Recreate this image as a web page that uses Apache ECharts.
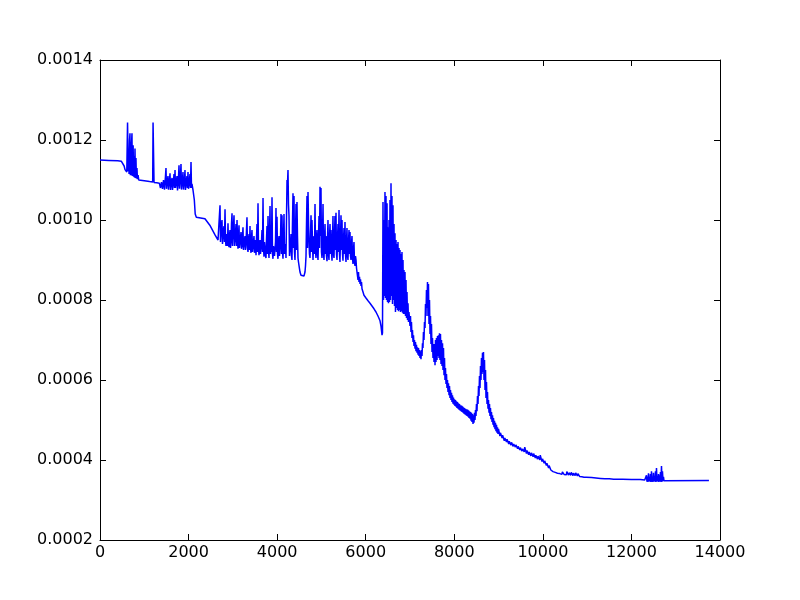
<!DOCTYPE html>
<html>
<head>
<meta charset="utf-8">
<script src="https://cdn.jsdelivr.net/npm/echarts@6/dist/echarts.min.js"></script>
<style>html,body{margin:0;padding:0;background:#fff;}#chart{width:800px;height:600px;}</style>
</head>
<body>
<div id="chart"></div>
<script>
// tick labels
const xTicks = [0, 2000, 4000, 6000, 8000, 10000, 12000, 14000];
const yTicks = [0.0002, 0.0004, 0.0006, 0.0008, 0.0010, 0.0012, 0.0014];

// series values: [x, y in units of 1e-6]
const segStart = [[0,1150],[200,1149],[400,1148],[480,1147],[520,1143],[545,1135],[565,1126],[590,1121],[605,1120]];
const segBurst1 = [[615,1118],[622,1244],[630,1244],[638,1122],[648,1160],[656,1115],[668,1200],[677,1217],[686,1112],[695,1180],[703,1112],[712,1190],[722,1217],[730,1110],[740,1150],[748,1187],[758,1108],[768,1160],[780,1106],[790,1179],[800,1105],[812,1155],[822,1104],[835,1130],[845,1102],[860,1112],[875,1100],[903,1099],[1000,1098],[1120,1096],[1190,1095],[1198,1244],[1212,1244],[1220,1094],[1280,1093],[1340,1092]];
const segBand1 = [[1355,1092],[1366,1080],[1377,1082],[1388,1095],[1400,1100],[1411,1078],[1423,1080],[1434,1100],[1445,1105],[1456,1076],[1468,1078],[1479,1110],[1490,1130],[1501,1078],[1513,1080],[1524,1100],[1535,1110],[1546,1076],[1558,1078],[1569,1100],[1581,1117],[1592,1075],[1603,1075],[1614,1098],[1626,1105],[1637,1075],[1648,1077],[1659,1100],[1671,1115],[1682,1080],[1694,1125],[1705,1080],[1716,1075],[1727,1100],[1739,1110],[1750,1074],[1761,1076],[1772,1105],[1784,1137],[1795,1078],[1806,1078],[1817,1110],[1829,1140],[1840,1076],[1852,1075],[1863,1100],[1874,1120],[1885,1076],[1897,1078],[1908,1100],[1919,1125],[1930,1075],[1942,1076],[1953,1100],[1964,1110],[1975,1080],[1987,1120],[1998,1078],[2010,1075],[2021,1100],[2032,1115],[2043,1080],[2055,1145],[2066,1080],[2077,1090],[2100,1075],[2130,1050],[2150,1015],[2175,1007],[2370,1003],[2480,987],[2600,962],[2665,950],[2700,946]];
const segBand2 = [[2710,1037],[2721,945],[2733,940],[2744,990],[2755,1000],[2766,940],[2777,938],[2788,975],[2800,985],[2811,945],[2823,1027],[2834,950],[2845,935],[2856,965],[2868,970],[2879,935],[2890,992],[2901,940],[2913,932],[2924,960],[2935,975],[2946,930],[2958,945],[2969,990],[2981,1017],[2992,935],[3003,930],[3014,985],[3026,1012],[3037,935],[3048,940],[3059,965],[3071,990],[3082,935],[3094,1000],[3105,950],[3116,928],[3127,960],[3139,987],[3150,930],[3161,925],[3172,955],[3184,970],[3195,928],[3206,935],[3217,960],[3229,982],[3240,925],[3252,922],[3263,950],[3274,960],[3285,925],[3297,940],[3308,975],[3319,1007],[3330,930],[3342,920],[3353,950],[3365,965],[3376,925],[3387,985],[3398,930],[3410,918],[3421,955],[3432,975],[3443,920],[3455,915],[3466,945],[3477,960],[3488,918],[3500,930],[3511,950],[3523,912],[3534,955],[3545,990],[3556,920],[3568,1042],[3579,930],[3590,912],[3601,940],[3613,950],[3624,915],[3635,910],[3646,945],[3658,975],[3669,920],[3681,1055],[3692,930],[3703,908],[3714,945],[3726,940],[3737,912],[3748,905],[3759,950],[3771,985],[3782,915],[3794,1010],[3805,925],[3816,905],[3827,960],[3839,1035],[3850,915],[3861,950],[3872,920],[3884,1057],[3895,915],[3906,903],[3917,935],[3929,940],[3940,910],[3952,905],[3963,945],[3974,1030],[3985,920],[3997,1008],[4008,915],[4019,903],[4030,945],[4042,960],[4053,910],[4064,910],[4075,950],[4087,1015],[4098,915],[4110,1012],[4121,920],[4132,903],[4143,955],[4155,1015],[4166,915],[4177,910],[4188,940],[4200,905],[4211,1000],[4223,1100],[4234,1090],[4245,1125],[4256,1040],[4268,1010],[4279,910],[4290,905],[4301,940],[4313,965],[4324,910],[4335,900],[4346,990],[4358,1067],[4369,930],[4381,1060],[4392,920],[4403,900],[4414,960],[4426,1040],[4437,925],[4448,1045],[4459,960],[4471,905],[4482,895],[4494,890],[4505,878],[4516,870],[4539,862],[4561,858],[4584,858],[4606,860],[4629,870],[4640,885],[4652,910],[4663,990],[4674,1060],[4685,930],[4697,1070],[4708,1000],[4719,950],[4730,915],[4742,905],[4753,960],[4765,1012],[4776,920],[4787,1000],[4798,940],[4810,900],[4821,945],[4832,960],[4843,915],[4855,1040],[4866,925],[4877,905],[4888,950],[4900,975],[4911,915],[4923,900],[4934,955],[4945,1010],[4956,930],[4968,1083],[4979,960],[4990,1080],[5001,920],[5013,905],[5024,960],[5036,1040],[5047,915],[5058,900],[5069,950],[5081,990],[5092,915],[5103,960],[5114,910],[5126,897],[5137,950],[5148,1000],[5159,915],[5171,900],[5182,955],[5194,990],[5205,915],[5216,975],[5227,920],[5239,898],[5250,950],[5261,1010],[5272,915],[5284,905],[5295,960],[5306,1010],[5317,925],[5329,1018],[5340,915],[5352,900],[5363,950],[5374,990],[5385,920],[5397,1025],[5408,915],[5419,895],[5430,950],[5442,1012],[5453,925],[5465,1000],[5476,915],[5487,898],[5498,950],[5510,980],[5521,915],[5532,995],[5543,915],[5555,895],[5566,945],[5577,980],[5588,910],[5600,900],[5611,945],[5623,975],[5634,915],[5645,970],[5656,910],[5668,900],[5679,940],[5690,960],[5701,905],[5713,890],[5724,925],[5735,945],[5746,895],[5758,885],[5769,910],[5781,900],[5792,880],[5803,880]];
const segSlope = [[5826,850],[5837,870],[5848,845],[5860,858],[5871,840],[5882,852],[5894,835],[5905,845],[5916,828],[5939,820],[5961,812],[5984,808],[6006,805],[6052,798],[6097,792],[6142,785],[6187,778],[6232,770],[6277,760],[6323,748],[6345,735],[6368,712],[6379,718]];
const segBurst2 = [[6390,1045],[6402,800],[6413,1000],[6424,810],[6435,1070],[6447,805],[6458,1060],[6469,800],[6481,1042],[6492,795],[6503,982],[6514,792],[6526,1000],[6537,795],[6548,1050],[6560,800],[6571,1092],[6582,810],[6593,1060],[6605,790],[6616,1037],[6627,800],[6639,990],[6650,785],[6661,967],[6672,770],[6684,950],[6695,780],[6706,940],[6718,775],[6729,945],[6740,772],[6752,930],[6763,775],[6774,925],[6785,770],[6797,915],[6808,772],[6819,920],[6831,768],[6842,900],[6853,765],[6864,875],[6876,765],[6887,870],[6898,760],[6910,850],[6921,755],[6932,820],[6944,750],[6955,792],[6966,745],[6977,770]];
const segPeaks = [[7000,735],[7011,760],[7022,720],[7033,745],[7045,705],[7056,725],[7068,695],[7079,712],[7090,685],[7101,700],[7113,678],[7124,695],[7135,672],[7146,688],[7158,668],[7169,682],[7181,663],[7192,680],[7203,660],[7214,675],[7226,655],[7237,672],[7248,652],[7259,675],[7271,660],[7282,692],[7293,680],[7304,720],[7316,700],[7327,745],[7339,730],[7350,790],[7361,760],[7372,825],[7384,780],[7395,845],[7406,760],[7417,840],[7429,740],[7440,800],[7452,715],[7463,760],[7474,690],[7485,740],[7497,670],[7508,705],[7519,655],[7530,690],[7542,645],[7553,690],[7565,637],[7576,700],[7587,645],[7598,705],[7610,650],[7621,710],[7632,660],[7643,712],[7655,655],[7666,717],[7677,650],[7688,715],[7700,640],[7711,700],[7723,635],[7734,692],[7745,625],[7756,680],[7768,612],[7779,655],[7790,600],[7801,630],[7813,590],[7824,615],[7835,580],[7846,600],[7858,570],[7869,592],[7881,562],[7892,585],[7903,555],[7914,575],[7926,550],[7937,568],[7948,545],[7959,562],[7971,541],[7982,556],[7994,538],[8005,552],[8016,535],[8027,550],[8039,533],[8050,547],[8061,530],[8072,545],[8084,528],[8095,542],[8107,526],[8118,540],[8129,524],[8140,537],[8152,522],[8163,536],[8174,520],[8185,534],[8197,518],[8208,532],[8219,516],[8230,530],[8242,514],[8253,528],[8265,512],[8276,527],[8287,510],[8298,526],[8310,508],[8321,524],[8333,505],[8344,522],[8355,503],[8366,520],[8378,498],[8389,518],[8400,495],[8411,515],[8423,490],[8434,512],[8445,493],[8456,518],[8468,500],[8479,525],[8490,510],[8501,540],[8513,522],[8524,560],[8536,540],[8547,585],[8558,560],[8569,610],[8581,580],[8592,635],[8603,600],[8614,655],[8626,615],[8637,668],[8648,620],[8659,670],[8671,600],[8682,650],[8694,575],[8705,625],[8716,555],[8727,595],[8739,540],[8750,570],[8761,528],[8772,550],[8784,518],[8795,540],[8806,510],[8817,530],[8829,502],[8840,520],[8852,495],[8863,512],[8874,488],[8885,505],[8897,482],[8908,498],[8919,477],[8930,493],[8942,472],[8953,488],[8964,468],[8975,482],[8987,465],[8998,478]];
const segTail = [[9030,460],[9041,468],[9080,455],[9091,462],[9130,448],[9141,455],[9180,445],[9191,452],[9230,440],[9241,447],[9280,437],[9291,444],[9330,434],[9341,440],[9380,432],[9391,438],[9430,428],[9441,434],[9480,425],[9491,431],[9530,422],[9541,428],[9580,420],[9591,432],[9630,416],[9641,424],[9680,413],[9691,420],[9730,410],[9741,418],[9780,408],[9791,416],[9830,405],[9841,412],[9880,402],[9891,410],[9930,400],[9941,412],[9980,396],[9991,403],[10030,392],[10041,398],[10080,386],[10091,392],[10130,380],[10141,386],[10180,375],[10191,380],[10230,371],[10241,376],[10280,369],[10291,373],[10330,367],[10341,372],[10380,366],[10391,370],[10430,364],[10441,370],[10480,364],[10491,368],[10530,363],[10541,371],[10580,362],[10591,368],[10630,362],[10641,369],[10680,361],[10691,367],[10730,361],[10741,368],[10780,360],[10791,366],[10830,359],[10841,364],[10880,358],[10891,362],[10930,357],[10941,361],[10980,357],[11000,360],[11100,356],[11200,355],[11300,354],[11400,353],[11500,353],[11600,352],[11800,352],[12000,351],[12200,351],[12300,350]];
const segBurst3 = [[12318,350],[12329,346],[12340,362],[12351,346],[12363,358],[12374,345],[12385,367],[12397,347],[12408,355],[12419,346],[12430,365],[12442,345],[12453,372],[12464,346],[12476,358],[12487,345],[12498,368],[12510,347],[12521,360],[12532,346],[12543,372],[12555,345],[12566,380],[12577,347],[12588,360],[12600,346],[12611,365],[12622,345],[12634,362],[12645,347],[12656,370],[12667,345],[12679,385],[12690,346],[12701,372],[12713,347],[12724,358],[12735,348],[12746,352],[12760,349],[13750,349]];

const allPoints = [].concat(segStart, segBurst1, segBand1, segBand2, segSlope, segBurst2, segPeaks, segTail, segBurst3)
  .map(p => [p[0], p[1] * 1e-6]);

const font = 'DejaVu Sans';
const xMin = xTicks[0], xMax = xTicks[xTicks.length - 1], xStep = xTicks[1] - xTicks[0];
const yMin = yTicks[0], yMax = yTicks[yTicks.length - 1], yStep = 0.0002;

const axisLine = { show: true, onZero: false, lineStyle: { color: '#000', width: 1 } };
const tick = { show: true, inside: true, length: 6, lineStyle: { color: '#000', width: 1 } };

const chart = echarts.init(document.getElementById('chart'), null, { renderer: 'canvas' });
chart.setOption({
  animation: false,
  backgroundColor: '#fff',
  grid: { left: 100, right: 80, top: 60, bottom: 60, containLabel: false },
  xAxis: [
    { type: 'value', min: xMin, max: xMax, interval: xStep, position: 'bottom',
      axisLine, axisTick: tick, splitLine: { show: false },
      axisLabel: { color: '#000', fontFamily: font, fontSize: 16, margin: 5, formatter: v => String(v) } },
    { type: 'value', min: xMin, max: xMax, interval: xStep, position: 'top',
      axisLine, axisTick: tick, splitLine: { show: false }, axisLabel: { show: false } }
  ],
  yAxis: [
    { type: 'value', min: yMin, max: yMax, interval: yStep, position: 'left',
      axisLine, axisTick: tick, splitLine: { show: false },
      axisLabel: { color: '#000', fontFamily: font, fontSize: 16, margin: 7, formatter: v => v.toFixed(4) } },
    { type: 'value', min: yMin, max: yMax, interval: yStep, position: 'right',
      axisLine, axisTick: tick, splitLine: { show: false }, axisLabel: { show: false } }
  ],
  series: [{
    type: 'line', xAxisIndex: 0, yAxisIndex: 0, data: allPoints,
    showSymbol: false, symbol: 'none', sampling: null,
    lineStyle: { color: '#0000ff', width: 1.5 }, z: 3
  }]
});
</script>
</body>
</html>
